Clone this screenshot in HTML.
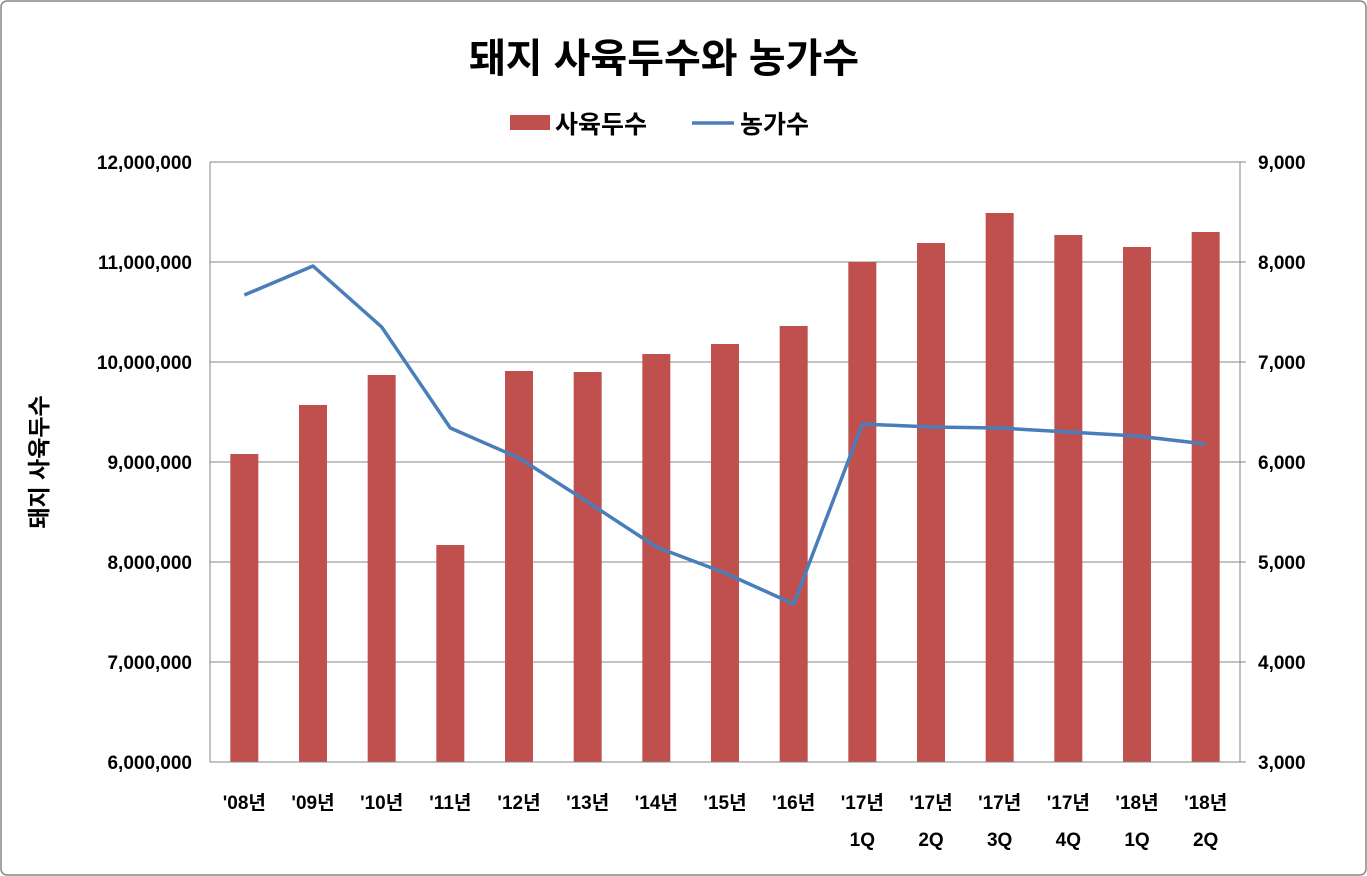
<!DOCTYPE html>
<html><head><meta charset="utf-8"><style>
body{margin:0;background:#fff;}
svg{display:block;font-family:"Liberation Sans","Noto Sans CJK KR",sans-serif;}
</style></head><body>
<svg id="chart" width="1367" height="876">
<rect x="1" y="1" width="1365" height="874" rx="6" fill="#fff" stroke="#888" stroke-width="1.5"/>
<text x="664" y="72" text-anchor="middle" font-size="40" font-weight="bold" fill="#000">돼지 사육두수와 농가수</text>
<g>
<rect x="510" y="115" width="40" height="15" fill="#c0504d"/>
<text x="555" y="133" font-size="25" font-weight="bold">사육두수</text>
<line x1="692" y1="123" x2="734" y2="123" stroke="#4a7ebb" stroke-width="3.5"/>
<text x="740" y="133" font-size="25" font-weight="bold">농가수</text>
</g>
<text transform="translate(47,462) rotate(-90)" text-anchor="middle" font-size="23" font-weight="bold">돼지 사육두수</text>
<g id="grid"></g><g id="bars"></g><g id="line"></g><g id="axes"></g>
</svg>
<script>
const categories=["'08년","'09년","'10년","'11년","'12년","'13년","'14년","'15년","'16년","'17년|1Q","'17년|2Q","'17년|3Q","'17년|4Q","'18년|1Q","'18년|2Q"];
const headCounts=[9080000,9570000,9870000,8170000,9910000,9900000,10080000,10180000,10360000,11000000,11190000,11490000,11270000,11150000,11300000];
const farmCounts=[7670,7960,7350,6340,6040,5600,5150,4890,4580,6380,6350,6340,6300,6260,6180];
const leftTicks=[6000000,7000000,8000000,9000000,10000000,11000000,12000000];
const rightTicks=[3000,4000,5000,6000,7000,8000,9000];
const NS="http://www.w3.org/2000/svg";
const X0=210,X1=1240,Y0=762,Y1=162;
const step=(X1-X0)/categories.length;
const xc=i=>X0+step*(i+0.5);
const yL=v=>Y0-(v-6000000)/6000000*(Y0-Y1);
const yR=v=>Y0-(v-3000)/6000*(Y0-Y1);
function mk(tag,attrs,parent){const e=document.createElementNS(NS,tag);for(const k in attrs)e.setAttribute(k,attrs[k]);document.getElementById(parent).appendChild(e);return e;}
leftTicks.forEach((t,i)=>{
  const g=mk('line',{x1:X0,x2:X1,y1:yL(t),y2:yL(t),stroke:'#868686','stroke-width':1},'grid');
  
  
  const tl=mk('text',{x:X0-18,y:yL(t)+7,'text-anchor':'end','font-size':19,'font-weight':'bold'},'axes');
  tl.textContent=t.toLocaleString('en-US');
  
  
});
rightTicks.forEach(t=>{
  const tl=mk('text',{x:X1+18,y:yR(t)+7,'font-size':19,'font-weight':'bold'},'axes');
  tl.textContent=t.toLocaleString('en-US');
  
  
  const tk=mk('line',{x1:X1,x2:X1+6,y1:yR(t),y2:yR(t),stroke:'#868686'},'axes');
  
  
});
[[X0,Y1,X0,Y0],[X1,Y1,X1,Y0],[X0,Y0,X1,Y0]].forEach(a=>{
  const l=mk('line',{x1:a[0],y1:a[1],x2:a[2],y2:a[3],stroke:'#868686'},'axes');
  
  
});
headCounts.forEach((v,i)=>{
  const r=mk('rect',{x:xc(i)-14,y:yL(v),width:28,height:Y0-yL(v),fill:'#c0504d'},'bars');
  
  
});
const p=mk('polyline',{points:farmCounts.map((v,i)=>xc(i)+','+yR(v)).join(' '),fill:'none',stroke:'#4a7ebb','stroke-width':3.5,'stroke-linejoin':'round'},'line');


categories.forEach((c,i)=>{
  c.split('|').forEach((s,j)=>{
    const t=mk('text',{x:xc(i),y:809+j*37,'text-anchor':'middle','font-size':19,'font-weight':'bold'},'axes');
    t.textContent=s;
    
    
  });
});
</script>
</body></html>
